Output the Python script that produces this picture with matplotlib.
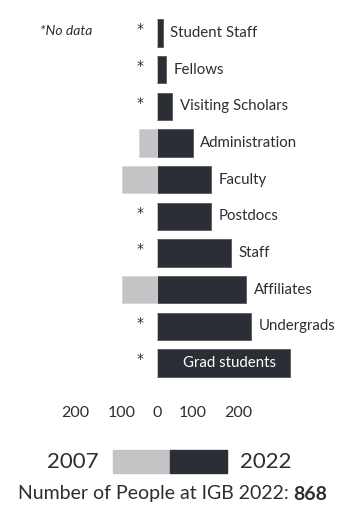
import numpy as np
from matplotlib import pyplot as plt
from matplotlib import patches

# data (people per group)
categories = ['Student Staff', 'Fellows', 'Visiting Scholars', 'Administration', 'Faculty',
              'Postdocs', 'Staff', 'Affiliates', 'Undergrads', 'Grad students']
people_2022 = [9, 14, 23, 55, 83, 83, 114, 137, 145, 205]
people_2007 = [None, None, None, 27, 54, None, None, 54, None, None]
tick_pos = [-126, -54, 0, 55, 125]
tick_labels = ['200', '100', '0', '100', '200']
total_2022 = 868

dark = '#2c2e35'
light = '#c4c4c6'
font = 'Lato'

W, H = 354, 532
fig = plt.figure(figsize=(W/100, H/100), dpi=100)
ax = fig.add_axes([0, 0, 1, 1])
# zero at pixel 157, 0.65 px per person; rows 36.67 px apart starting at pixel 33
x0, sc = 157, 0.65
ax.set_xlim(-x0/sc, (W-x0)/sc)
ax.set_ylim((H-33)/36.67, -33/36.67)
ax.axis('off')

y = np.arange(len(categories))
ax.barh(y, people_2022, height=0.75, color=dark, edgecolor='#55575e', linewidth=0.6)
old = [v if v is not None else 0 for v in people_2007]
ax.barh(y, [-v for v in old], height=0.75, color=light, edgecolor='#d6d6d8', linewidth=0.6)

for i, (name, v, o) in enumerate(zip(categories, people_2022, people_2007)):
    if name == 'Grad students':
        ax.text(40, i, name, color='white', fontsize=10.8, family=font,
                ha='left', va='center')
    else:
        ax.annotate(name, (v, i), xytext=(5.5, 0), textcoords='offset points',
                    color=dark, fontsize=10.8, family=font, ha='left', va='center')
    if o is None:
        ax.text(-26, i - 0.1, '*', color=dark, fontsize=10, family='DejaVu Sans',
                ha='center', va='center')

ax.text(-180, -0.05, '*No data', color=dark, fontsize=10, family=font, style='italic',
        ha='left', va='center')

# value labels under the bars
for p, lab in zip(tick_pos, tick_labels):
    ax.text(p, (413-33)/36.67, lab, color=dark, fontsize=11.5, family=font,
            ha='center', va='center')

# legend swatch
def fx(px):
    return px / W

def fy(py):
    return 1 - py / H

fig.add_artist(patches.Rectangle((fx(113), fy(473)), fx(170)-fx(113), fy(450)-fy(473),
                                 transform=fig.transFigure, color=light))
fig.add_artist(patches.Rectangle((fx(170), fy(473)), fx(227)-fx(170), fy(450)-fy(473),
                                 transform=fig.transFigure, color=dark))
fig.text(fx(99), fy(462), '2007', color=dark, fontsize=16, family=font,
         ha='right', va='center')
fig.text(fx(240), fy(462), '2022', color=dark, fontsize=16, family=font,
         ha='left', va='center')

fig.text(fx(289), fy(494), 'Number of People at IGB 2022:', color=dark, fontsize=14,
         family=font, ha='right', va='center')
fig.text(fx(293), fy(494), str(total_2022), color=dark, fontsize=14, family=font,
         weight='bold', ha='left', va='center')

fig.savefig('out.png', dpi=100, facecolor='white')
